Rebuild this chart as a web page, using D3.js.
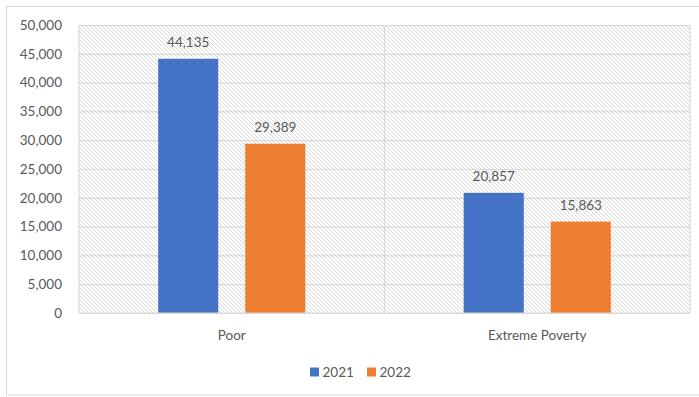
<!DOCTYPE html>
<html>
<head>
<meta charset="utf-8">
<script src="https://cdn.jsdelivr.net/npm/d3@7"></script>
<style>
  html, body { margin: 0; padding: 0; background: #fff; }
  svg text { font-family: Lato, "Open Sans", "Liberation Sans", sans-serif; fill: #595959; }
</style>
</head>
<body>
<svg id="chart" width="699" height="397"></svg>
<script>
// Poverty counts by category and year
const categories = ["Poor", "Extreme Poverty"];
const years = ["2021", "2022"];
const values2021 = [44135, 20857];
const values2022 = [29389, 15863];
const yTicks = [0, 5000, 10000, 15000, 20000, 25000, 30000, 35000, 40000, 45000, 50000];
const colors = ["#4472C4", "#ED7D31"];

const seriesValues = [values2021, values2022];
const rows = categories.map((c, i) => ({
  category: c,
  values: years.map((y, j) => ({ year: y, value: seriesValues[j][i], color: colors[j] }))
}));

const svg = d3.select("#chart");
const plot = { left: 79, right: 690, top: 25, bottom: 313 };

// chart frame
svg.append("rect")
  .attr("x", 6.5).attr("y", 6.5)
  .attr("width", 720).attr("height", 388.5)
  .attr("fill", "#fff").attr("stroke", "#d9d9d9").attr("stroke-width", 1);

// hatched plot-area fill
const defs = svg.append("defs");
const pat = defs.append("pattern")
  .attr("id", "hatch")
  .attr("patternUnits", "userSpaceOnUse")
  .attr("width", 4).attr("height", 4);
pat.append("rect").attr("width", 4).attr("height", 4).attr("fill", "#fff");
pat.append("path")
  .attr("d", "M-1,-1 L5,5 M-1,3 L1,5 M3,-1 L5,1")
  .attr("stroke", "#d4d4d4").attr("stroke-width", 0.9);

const x0 = d3.scaleBand()
  .domain(categories)
  .range([plot.left, plot.right])
  .paddingInner(0).paddingOuter(0);

const x1 = d3.scaleBand()
  .domain(years)
  .range([0, x0.bandwidth()])
  .paddingInner(0.31).paddingOuter(0.91);

const y = d3.scaleLinear()
  .domain([0, 50000])
  .range([plot.bottom, plot.top]);

svg.append("rect")
  .attr("x", plot.left).attr("y", plot.top)
  .attr("width", plot.right - plot.left).attr("height", plot.bottom - plot.top)
  .attr("fill", "url(#hatch)");

// horizontal gridlines
const yAxis = d3.axisLeft(y)
  .tickValues(yTicks)
  .tickFormat(d3.format(","))
  .tickSize(-(plot.right - plot.left))
  .tickPadding(17);

const gy = svg.append("g")
  .attr("transform", `translate(${plot.left},0)`)
  .call(yAxis);
gy.select(".domain").remove();
gy.selectAll(".tick line").attr("stroke", "#d9d9d9").attr("stroke-width", 1.2);
gy.selectAll(".tick text")
  .attr("font-size", 13.5)
  .attr("fill", "#595959");

// category separators and plot border
const bounds = [plot.left, ...categories.map(c => x0(c) + x0.bandwidth())];
svg.append("g").selectAll("line")
  .data(bounds)
  .join("line")
  .attr("x1", d => d).attr("x2", d => d)
  .attr("y1", plot.top).attr("y2", plot.bottom)
  .attr("stroke", "#d9d9d9").attr("stroke-width", 1.2);

// bars
const groups = svg.append("g").selectAll("g")
  .data(rows)
  .join("g")
  .attr("transform", d => `translate(${x0(d.category)},0)`);

groups.selectAll("rect")
  .data(d => d.values)
  .join("rect")
  .attr("x", d => x1(d.year))
  .attr("y", d => y(d.value))
  .attr("width", x1.bandwidth())
  .attr("height", d => y(0) - y(d.value))
  .attr("fill", d => d.color);

// value labels
groups.selectAll("text.val")
  .data(d => d.values)
  .join("text")
  .attr("class", "val")
  .attr("x", d => x1(d.year) + x1.bandwidth() / 2)
  .attr("y", d => y(d.value) - 12)
  .attr("text-anchor", "middle")
  .attr("font-size", 13.5)
  .text(d => d3.format(",")(d.value));

// baseline
svg.append("line")
  .attr("x1", plot.left).attr("x2", plot.right)
  .attr("y1", plot.bottom).attr("y2", plot.bottom)
  .attr("stroke", "#d9d9d9").attr("stroke-width", 1.2);

// category labels
svg.append("g").selectAll("text")
  .data(categories)
  .join("text")
  .attr("x", d => x0(d) + x0.bandwidth() / 2)
  .attr("y", 340)
  .attr("text-anchor", "middle")
  .attr("font-size", 13.5)
  .text(d => d);

// legend
const legend = svg.append("g").attr("transform", "translate(310,372)");
const li = legend.selectAll("g")
  .data(years)
  .join("g")
  .attr("transform", (d, i) => `translate(${i * 57},0)`);
li.append("rect")
  .attr("x", 0).attr("y", -4.5)
  .attr("width", 9).attr("height", 9)
  .attr("fill", (d, i) => colors[i]);
li.append("text")
  .attr("x", 12.5).attr("y", 0)
  .attr("dy", "0.36em")
  .attr("font-size", 13.5)
  .text(d => d);
</script>
</body>
</html>
